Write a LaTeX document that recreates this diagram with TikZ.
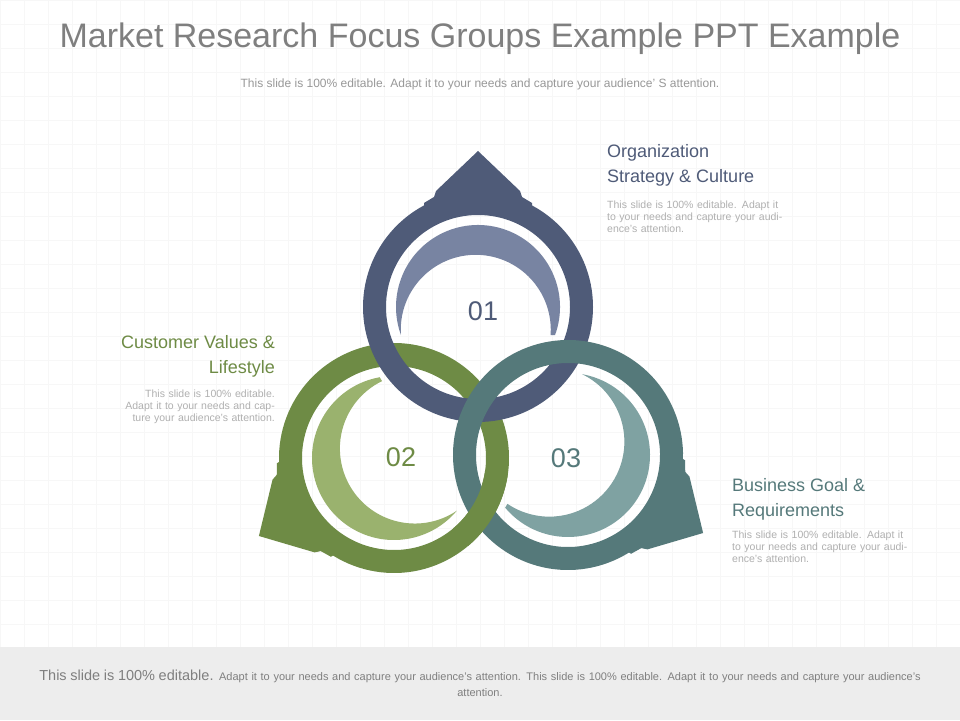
\documentclass[tikz,border=0pt]{standalone}
\usepackage{fontspec}
\setmainfont{Liberation Sans}
\definecolor{ringblue}{HTML}{4F5B78}
\definecolor{ringgreen}{HTML}{6E8B45}
\definecolor{ringteal}{HTML}{55797A}
\definecolor{lightblue}{HTML}{7884A2}
\definecolor{lightgreen}{HTML}{9AB26E}
\definecolor{lightteal}{HTML}{7FA2A2}
\definecolor{titlegray}{HTML}{7F7F7F}
\definecolor{bodygray}{HTML}{B0B0B0}
\tikzset{
  heading/.style={inner sep=0pt, font=\fontsize{18}{25}\selectfont},
  bodytext/.style={inner sep=0pt, text=bodygray, font=\fontsize{10.5}{12}\selectfont, text width=188pt},
  number/.style={font=\fontsize{27}{27}\selectfont}
}
% ring with tab and inner crescent, drawn pointing up and rotated
\newcommand\ringpart[4]{%
  \begin{scope}[shift={#1},rotate=#2]
    \fill[#3, even odd rule] (0,0) circle (115) (0,0) circle (92);
    \fill[#3] (-54,86) -- (-54,104) -- (-44,110) -- (-42,116) -- (0,156) -- (42,116) -- (44,110) -- (54,104) -- (54,86) arc (58:122:101.5) -- cycle;
    \fill[#4] (-20:82) arc (-20:200:82) -- ++(0,0) arc (184:-4:75) -- cycle;
  \end{scope}}
\begin{document}
\begin{tikzpicture}[x=1pt,y=1pt]
\useasboundingbox (0,0) rectangle (960,720);
\fill[white] (0,0) rectangle (960,720);
\draw[black!3, step=24] (0,73) grid (960,720);
\fill[black!7] (0,0) rectangle (960,73);
% title
\node[text=titlegray, font=\fontsize{34}{34}\selectfont] (title) at (480,681) {Market Research Focus Groups Example PPT Example};
\node[text=titlegray!80, font=\fontsize{12}{12}\selectfont] (subtitle) at (480,636) {This slide is 100\% editable. Adapt it to your needs and capture your audience’ S attention.};
% rings
\ringpart{(394,262)}{120}{ringgreen}{lightgreen}
\ringpart{(478,413)}{0}{ringblue}{lightblue}
\ringpart{(568,265)}{-120}{ringteal}{lightteal}
\begin{scope}[shift={(394,262)}]
  \fill[ringgreen] (-50:115) arc (-50:-8:115) -- (-8:92) arc (-8:-50:92) -- cycle;
\end{scope}
\node[number, text=ringblue] (n1) at (483,409) {01};
\node[number, text=ringgreen] (n2) at (401,263) {02};
\node[number, text=ringteal] (n3) at (566,262) {03};
% labels
\node[heading, text=ringblue, anchor=north west, align=left] (h1) at (607,576) {Organization\\Strategy \& Culture};
\node[bodytext, anchor=north west, align=left] (b1) at (607,519) {This slide is 100\% editable. Adapt it to your needs and capture your audience's attention.};
\node[heading, text=ringgreen, anchor=north east, align=right] (h2) at (275,385) {Customer Values \&\\Lifestyle};
\node[bodytext, anchor=north east, align=right] (b2) at (275,330) {This slide is 100\% editable. Adapt it to your needs and capture your audience's attention.};
\node[heading, text=ringteal, anchor=north west, align=left] (h3) at (732,242) {Business Goal \&\\Requirements};
\node[bodytext, anchor=north west, align=left] (b3) at (732,189) {This slide is 100\% editable. Adapt it to your needs and capture your audience's attention.};
% footer
\node[text=titlegray, align=center, text width=890pt, font=\fontsize{11}{16}\selectfont] (foot) at (480,37) {{\fontsize{14.5}{16}\selectfont This slide is 100\% editable.} Adapt it to your needs and capture your audience's attention. This slide is 100\% editable. Adapt it to your needs and capture your audience's attention.};
\end{tikzpicture}
\end{document}
